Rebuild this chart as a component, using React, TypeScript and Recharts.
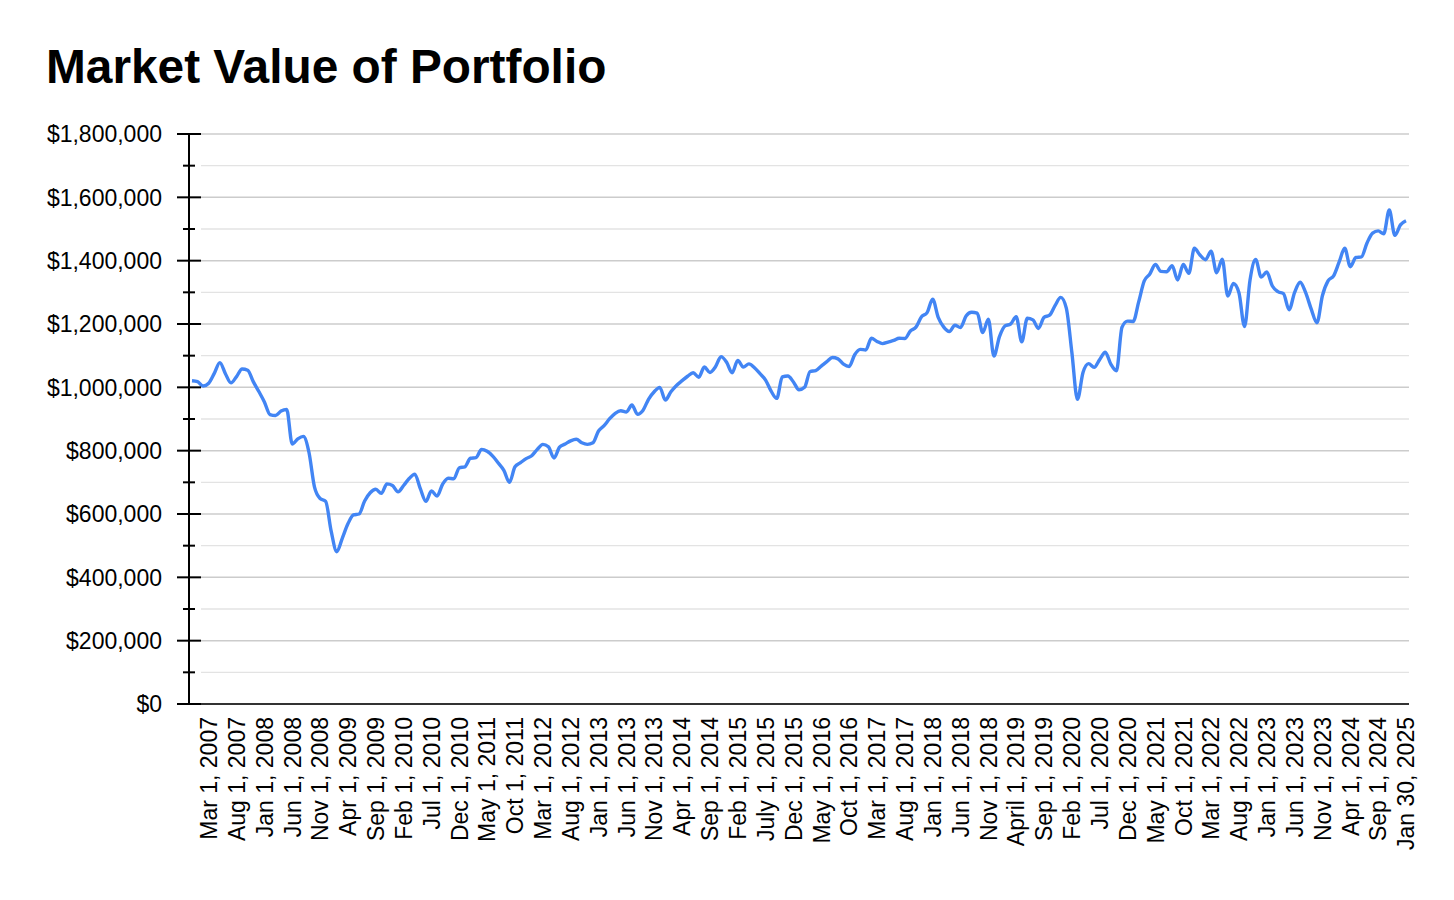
import { LineChart, Line, XAxis, YAxis, CartesianGrid } from "recharts";

// monthly portfolio value, Dec 2006 .. end of Jan 2025
const values = [
  1021000, 1018000, 1004000, 1013000, 1044000, 1078000, 1043000, 1014000, 1034000, 1058000,
  1054000, 1018000, 987000, 954000, 914000, 911000, 925000, 930000, 821000, 837000,
  845000, 795000, 685000, 649000, 640000, 545000, 481000, 524000, 569000, 597000,
  600000, 641000, 667000, 678000, 665000, 695000, 690000, 670000, 690000, 712000,
  726000, 680000, 640000, 673000, 657000, 694000, 713000, 711000, 746000, 749000,
  776000, 778000, 804000, 798000, 783000, 761000, 738000, 700000, 749000, 762000,
  775000, 784000, 804000, 820000, 812000, 777000, 811000, 821000, 831000, 836000,
  825000, 820000, 825000, 862000, 879000, 901000, 918000, 926000, 922000, 944000,
  915000, 928000, 963000, 986000, 1000000, 960000, 986000, 1006000, 1021000, 1035000,
  1046000, 1032000, 1064000, 1047000, 1065000, 1097000, 1079000, 1046000, 1085000, 1064000,
  1074000, 1062000, 1043000, 1023000, 988000, 965000, 1033000, 1036000, 1017000, 992000,
  1000000, 1050000, 1053000, 1067000, 1081000, 1094000, 1090000, 1073000, 1066000, 1103000,
  1120000, 1118000, 1155000, 1145000, 1138000, 1143000, 1148000, 1155000, 1154000, 1178000,
  1190000, 1223000, 1236000, 1278000, 1221000, 1190000, 1176000, 1196000, 1189000, 1225000,
  1237000, 1234000, 1173000, 1215000, 1099000, 1160000, 1194000, 1200000, 1223000, 1144000,
  1218000, 1213000, 1186000, 1221000, 1228000, 1259000, 1284000, 1250000, 1110000, 962000,
  1047000, 1075000, 1063000, 1088000, 1111000, 1073000, 1052000, 1190000, 1209000, 1208000,
  1270000, 1336000, 1358000, 1388000, 1366000, 1365000, 1384000, 1339000, 1388000, 1360000,
  1439000, 1418000, 1403000, 1430000, 1362000, 1405000, 1288000, 1328000, 1299000, 1192000,
  1340000, 1404000, 1348000, 1364000, 1320000, 1302000, 1296000, 1245000, 1300000, 1332000,
  1298000, 1246000, 1204000, 1290000, 1336000, 1352000, 1396000, 1439000, 1381000, 1410000,
  1412000, 1456000, 1487000, 1494000, 1485000, 1560000, 1480000, 1513000, 1526000,
];

const MONTHS = ["Jan", "Feb", "Mar", "Apr", "May", "Jun", "Jul", "Aug", "Sep", "Oct", "Nov", "Dec"];
const START_YEAR = 2006;
const START_MONTH = 11; // December

// every 5th category gets a label, counted back from the last one
const tickLabels = [
  "Mar 1, 2007", "Aug 1, 2007", "Jan 1, 2008", "Jun 1, 2008", "Nov 1, 2008", "Apr 1, 2009",
  "Sep 1, 2009", "Feb 1, 2010", "Jul 1, 2010", "Dec 1, 2010", "May 1, 2011", "Oct 1, 2011",
  "Mar 1, 2012", "Aug 1, 2012", "Jan 1, 2013", "Jun 1, 2013", "Nov 1, 2013", "Apr 1, 2014",
  "Sep 1, 2014", "Feb 1, 2015", "July 1, 2015", "Dec 1, 2015", "May 1, 2016", "Oct 1, 2016",
  "Mar 1, 2017", "Aug 1, 2017", "Jan 1, 2018", "Jun 1, 2018", "Nov 1, 2018", "April 1, 2019",
  "Sep 1, 2019", "Feb 1, 2020", "Jul 1, 2020", "Dec 1, 2020", "May 1, 2021", "Oct 1, 2021",
  "Mar 1, 2022", "Aug 1, 2022", "Jan 1, 2023", "Jun 1, 2023", "Nov 1, 2023", "Apr 1, 2024",
  "Sep 1, 2024", "Jan 30, 2025",
];
const LABEL_STEP = 5;

const yTicks = [
  0, 100000, 200000, 300000, 400000, 500000, 600000, 700000, 800000, 900000,
  1000000, 1100000, 1200000, 1300000, 1400000, 1500000, 1600000, 1700000, 1800000,
];

const data = values.map((value, i) => {
  const m = START_MONTH + i;
  return { period: `${MONTHS[m % 12]} ${START_YEAR + Math.floor(m / 12)}`, value };
});

const FONT = "'Liberation Sans', Arial, Helvetica, sans-serif";
const LINE_BLUE = "#4285f4";

const fmtMoney = (v: number) => "$" + v.toLocaleString("en-US");

function XTick(props: any) {
  const { x, y, index } = props;
  const first = (values.length - 1) % LABEL_STEP;
  const k = index - first;
  if (k < 0 || k % LABEL_STEP !== 0) return <g />;
  const label = tickLabels[k / LABEL_STEP];
  return (
    <text
      transform={`translate(${x},${y + 13}) rotate(-90)`}
      textAnchor="end"
      dy="0.36em"
      fontFamily={FONT}
      fontSize={23}
      fill="#000"
    >
      {label}
    </text>
  );
}

function YTick(props: any) {
  const { x, y, payload } = props;
  const major = payload.value % 200000 === 0;
  const half = major ? 12 : 6;
  return (
    <g>
      <line x1={x - half} x2={x + half} y1={y} y2={y} stroke="#000" strokeWidth={2} />
      {major && (
        <text x={x - 27} y={y} dy="0.36em" textAnchor="end" fontFamily={FONT} fontSize={23} fill="#000">
          {fmtMoney(payload.value)}
        </text>
      )}
    </g>
  );
}

function GridLine(props: any) {
  const { x1, x2, y1, y, height } = props;
  const step = Math.round(((y + height - y1) / height) * (yTicks.length - 1));
  let stroke = "#e3e3e3";
  let w = 1.3;
  if (step === 0) {
    stroke = "#333333";
    w = 2;
  } else if (step % 2 === 0) {
    stroke = "#cccccc";
    w = 1.5;
  }
  return <line key={props.key} x1={x1 + 12} x2={x2} y1={y1} y2={y1} stroke={stroke} strokeWidth={w} />;
}

export default function App() {
  return (
    <div style={{ position: "relative", width: 1438, height: 884 }}>
      <svg width={1438} height={120} style={{ position: "absolute", left: 0, top: 0 }}>
        <text x={38} y={75} fontFamily={FONT} fontWeight="bold" fontSize={47.8} fill="#000">
          Market Value of Portfolio
        </text>
      </svg>
      <LineChart
        width={1438}
        height={884}
        data={data}
        margin={{ top: 126, right: 37, bottom: 28, left: 0 }}
      >
        <CartesianGrid vertical={false} horizontal={GridLine} />
        <XAxis
          dataKey="period"
          interval={0}
          tick={XTick}
          tickLine={false}
          axisLine={false}
          tickSize={0}
          tickMargin={0}
          height={160}
          padding={{ left: 3, right: 3 }}
        />
        <YAxis
          type="number"
          domain={[0, 1800000]}
          ticks={yTicks}
          interval={0}
          tick={YTick}
          tickLine={false}
          tickSize={0}
          tickMargin={0}
          axisLine={{ stroke: "#000", strokeWidth: 2 }}
          width={181}
        />
        <Line
          type="monotone"
          dataKey="value"
          stroke={LINE_BLUE}
          strokeWidth={3.4}
          dot={false}
          isAnimationActive={false}
        />
      </LineChart>
    </div>
  );
}
